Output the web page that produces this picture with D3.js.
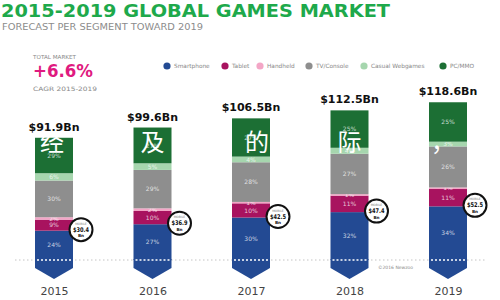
<!DOCTYPE html>
<meta charset="utf-8">
<style>
body { margin: 0; background: #fff; }
svg { display: block; font-family: "DejaVu Sans", sans-serif; }
</style>
<body>
<div id="chart"></div>
<script src="https://d3js.org/d3.v7.min.js"></script>
<script>

var width = 500,
    height = 300;

// data
var years = ["2015", "2016", "2017", "2018", "2019"];
var totals = [91.9, 99.6, 106.5, 112.5, 118.6];
var mobile = [30.4, 36.9, 42.5, 47.4, 52.5];
var segments = ["Smartphone", "Tablet", "Handheld", "TV/Console", "Casual Webgames", "PC/MMO"];
var smartphone = [24, 27, 30, 32, 34];
var tablet = [9, 10, 10, 11, 11];
var handheld = [2, 2, 1, 1, 1];
var tvConsole = [30, 29, 28, 27, 26];
var casual = [6, 5, 4, 4, 3];
var pcMmo = [29, 27, 27, 25, 25];
var overlayChars = ["经", "及", "的", "际", "，"];

var colors = ["#234a93", "#a8135f", "#f3a6c6", "#8e8e8e", "#a6d6ae", "#1c6f34"];
var shares = [smartphone, tablet, handheld, tvConsole, casual, pcMmo];

var rows = years.map(function(y, i) {
    var r = {year: y, total: totals[i], mobile: mobile[i]};
    segments.forEach(function(s, j) { r[s] = shares[j][i]; });
    return r;
});

var svg = d3.select("#chart").append("svg")
    .attr("width", width)
    .attr("height", height);

var x = d3.scalePoint()
    .domain(years)
    .range([54, 448]);

var y = d3.scaleLinear()
    .domain([0, 120])
    .range([260, 100.4]);

var barW = 38;

// stack the percentages, scaled to each year's total
var stack = d3.stack()
    .keys(segments)
    .value(function(d, key) { return d[key] / 100 * d.total; });
var series = stack(rows);

/* title block */
svg.append("text")
    .attr("x", 1).attr("y", 17)
    .attr("textLength", 389).attr("lengthAdjust", "spacingAndGlyphs")
    .style("font-size", "17px").style("font-weight", "bold")
    .style("fill", "#1ea94b")
    .text("2015-2019 GLOBAL GAMES MARKET");

svg.append("text")
    .attr("x", 2).attr("y", 30)
    .attr("textLength", 201).attr("lengthAdjust", "spacingAndGlyphs")
    .style("font-size", "8.5px")
    .style("fill", "#8c8c8c")
    .text("FORECAST PER SEGMENT TOWARD 2019");

svg.append("text")
    .attr("x", 33).attr("y", 58.5)
    .attr("textLength", 43).attr("lengthAdjust", "spacingAndGlyphs")
    .style("font-size", "5.5px").style("fill", "#888")
    .text("TOTAL MARKET");

svg.append("text")
    .attr("x", 33).attr("y", 77)
    .attr("textLength", 60).attr("lengthAdjust", "spacingAndGlyphs")
    .style("font-size", "17px").style("font-weight", "bold")
    .style("fill", "#df1a80")
    .text("+6.6%");

svg.append("text")
    .attr("x", 33).attr("y", 91)
    .attr("textLength", 64).attr("lengthAdjust", "spacingAndGlyphs")
    .style("font-size", "6px").style("fill", "#888")
    .text("CAGR 2015-2019");

/* legend */
var legendX = [167, 225, 260, 309, 364, 443];
var legend = svg.append("g").selectAll("g")
    .data(segments)
    .enter().append("g")
    .attr("transform", function(d, i) { return "translate(" + legendX[i] + ",66)"; });

legend.append("circle")
    .attr("r", 3.6)
    .style("fill", function(d, i) { return colors[i]; });

legend.append("text")
    .attr("x", 7).attr("dy", "0.35em")
    .style("font-size", "5.8px").style("fill", "#888")
    .text(function(d) { return d; });

/* dotted baseline */
svg.append("line")
    .attr("x1", 15).attr("x2", 485)
    .attr("y1", y(0)).attr("y2", y(0))
    .style("stroke", "#c4c4c4")
    .style("stroke-width", 1)
    .style("stroke-dasharray", "1.5,2.5");

/* chevron under each bar (part of the smartphone segment) */
svg.append("g").selectAll("path")
    .data(rows)
    .enter().append("path")
    .attr("d", function(d) {
        var l = x(d.year) - barW / 2, r = x(d.year) + barW / 2, b = y(0);
        return "M" + l + "," + (b - 1) + "L" + r + "," + (b - 1) +
            "L" + r + "," + (b + 8) + "L" + x(d.year) + "," + (b + 19) +
            "L" + l + "," + (b + 8) + "Z";
    })
    .style("fill", colors[0]);

/* stacked segments */
var layer = svg.append("g").selectAll("g")
    .data(series)
    .enter().append("g")
    .style("fill", function(d, i) { return colors[i]; });

layer.selectAll("rect")
    .data(function(d) { return d; })
    .enter().append("rect")
    .attr("x", function(d) { return x(d.data.year) - barW / 2; })
    .attr("width", barW)
    .attr("y", function(d) { return y(d[1]); })
    .attr("height", function(d) { return y(d[0]) - y(d[1]); });

/* white dashes inside the bar at the baseline */
svg.append("g").selectAll("line")
    .data(rows)
    .enter().append("line")
    .attr("x1", function(d) { return x(d.year) - barW / 2 + 2; })
    .attr("x2", function(d) { return x(d.year) + barW / 2 - 2; })
    .attr("y1", y(0)).attr("y2", y(0))
    .style("stroke", "#fff")
    .style("stroke-width", 1.3)
    .style("stroke-dasharray", "2,2");

/* percentage labels */
layer.selectAll("text")
    .data(function(d) { return d.map(function(p) { p.key = d.key; return p; }); })
    .enter().append("text")
    .attr("x", function(d) { return x(d.data.year); })
    .attr("y", function(d) { return (y(d[0]) + y(d[1])) / 2; })
    .attr("dy", "0.35em")
    .attr("text-anchor", "middle")
    .style("font-size", "6px")
    .style("fill", "#fff")
    .style("fill-opacity", 0.75)
    .text(function(d) { return d.data[d.key] + "%"; });

/* total labels */
svg.append("g").selectAll("text")
    .data(rows)
    .enter().append("text")
    .attr("x", function(d) { return x(d.year); })
    .attr("y", function(d) { return y(d.total) - 7; })
    .attr("text-anchor", "middle")
    .style("font-size", "11px").style("font-weight", "bold")
    .style("fill", "#111")
    .text(function(d) { return "$" + d.total + "Bn"; });

/* white overlay characters */
svg.append("g").selectAll("text")
    .data(overlayChars)
    .enter().append("text")
    .attr("x", function(d, i) { return i < 4 ? x(years[i]) + (i == 0 ? -2 : i == 2 ? 6 : 0) : x(years[i]) - 17; })
    .attr("y", 151)
    .attr("text-anchor", function(d, i) { return i < 4 ? "middle" : "start"; })
    .style("font-family", "'Noto Sans CJK SC', sans-serif")
    .style("font-size", "24px")
    .style("fill", "#fff")
    .text(function(d) { return d; });

/* mobile callouts */
var callout = svg.append("g").selectAll("g")
    .data(rows)
    .enter().append("g")
    .attr("transform", function(d) {
        var b = d.Smartphone / 100 * d.total;
        return "translate(" + (x(d.year) + barW / 2 + 8) + "," + (y(b) - 1) + ")";
    });

callout.append("circle")
    .attr("r", 11.5)
    .style("fill", "#fff")
    .style("stroke", "#111")
    .style("stroke-width", 2);

callout.append("text")
    .attr("y", -5).attr("text-anchor", "middle")
    .style("font-size", "3px").style("fill", "#777")
    .text("MOBILE");

callout.append("text")
    .attr("y", 2).attr("text-anchor", "middle")
    .attr("textLength", 16).attr("lengthAdjust", "spacingAndGlyphs")
    .style("font-size", "6.5px").style("font-weight", "bold").style("fill", "#111")
    .text(function(d) { return "$" + d.mobile; });

callout.append("text")
    .attr("y", 7.6).attr("text-anchor", "middle")
    .style("font-size", "4.2px").style("font-weight", "bold").style("fill", "#111")
    .text("Bn");

/* year axis */
var axis = svg.append("g")
    .attr("transform", "translate(0,284)")
    .call(d3.axisBottom(x).tickSize(0).tickPadding(3));
axis.select(".domain").remove();
axis.selectAll("text")
    .style("font-family", "'DejaVu Sans', sans-serif")
    .style("font-size", "11px")
    .style("fill", "#444");

svg.append("text")
    .attr("x", 378).attr("y", 269)
    .style("font-size", "4.5px").style("fill", "#888")
    .text("©2016 Newzoo");

</script>
